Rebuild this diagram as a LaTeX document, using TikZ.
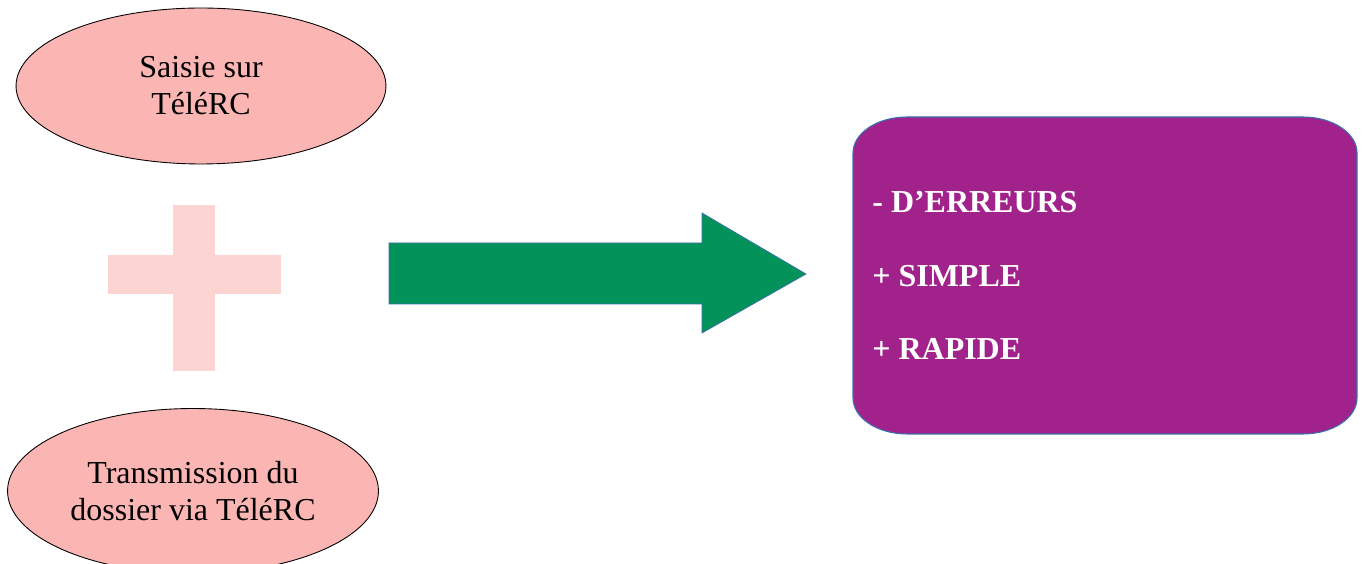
\documentclass[tikz,border=0pt]{standalone}
\usepackage{fontspec}
\setmainfont{Liberation Serif}
\usepackage{tikz}
\usetikzlibrary{shapes.geometric}

\definecolor{saisiepink}{RGB}{251,182,180}
\definecolor{pluspink}{RGB}{252,213,211}
\definecolor{arrowgreen}{RGB}{3,146,90}
\definecolor{boxpurple}{RGB}{161,34,139}
\definecolor{boxline}{RGB}{60,111,176}

\begin{document}
\begin{tikzpicture}[
  x=0.02cm, y=0.02cm,
  stage/.style={ellipse, draw=black, line width=0.5pt, fill=saisiepink,
    inner sep=0pt, align=center, font=\fontsize{18.2}{21}\selectfont},
  gain/.style={anchor=base west, inner sep=0pt, text=white,
    font=\fontsize{18.2}{21}\selectfont\bfseries}
]
\useasboundingbox (0,0) rectangle (1365,564);

% the two steps
\node[stage, minimum width=7.4cm, minimum height=3.12cm] (saisie) at (201,478)
  {Saisie sur\\TéléRC};
\node[stage, minimum width=7.42cm, minimum height=3.3cm] (transmission) at (193,73)
  {Transmission du\\dossier via TéléRC};

% plus sign
\fill[pluspink] (173,193) rectangle (215,359);
\fill[pluspink] (108,270) rectangle (281,309);

% big arrow
\filldraw[fill=arrowgreen, draw=boxline, line width=0.4pt]
  (389,260) -- (702,260) -- (702,231) -- (806,290) -- (702,351)
  -- (702,321) -- (389,321) -- cycle;

% result box
\filldraw[fill=boxpurple, draw=boxline, line width=0.6pt]
  (907,130) -- (1303,130) arc[start angle=270, end angle=360, x radius=54, y radius=36]
  -- (1357,411) arc[start angle=0, end angle=90, x radius=54, y radius=36]
  -- (907,447) arc[start angle=90, end angle=180, x radius=54, y radius=36]
  -- (853,166) arc[start angle=180, end angle=270, x radius=54, y radius=36] -- cycle;
\node[gain] (erreurs) at (872,351) {- D’ERREURS};
\node[gain] (simple) at (872,277) {+ SIMPLE};
\node[gain] (rapide) at (872,204) {+ RAPIDE};
\end{tikzpicture}
\end{document}
